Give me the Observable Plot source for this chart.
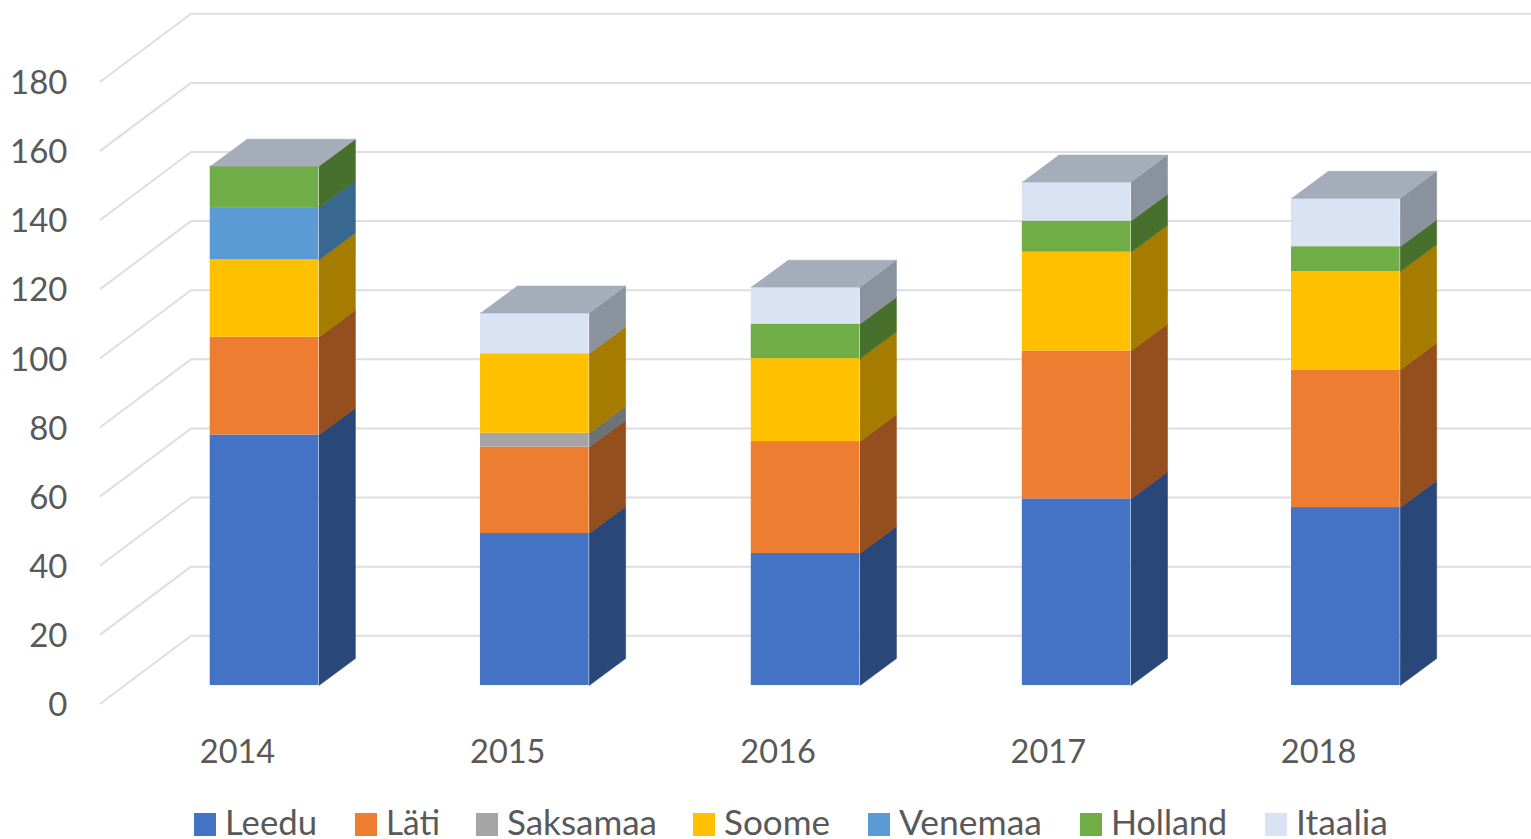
<!DOCTYPE html>
<html>
<head>
<meta charset="utf-8">
<script src="https://cdn.jsdelivr.net/npm/d3@7"></script>
<script src="https://cdn.jsdelivr.net/npm/@observablehq/plot@0.6"></script>
<style>
html,body{margin:0;padding:0;background:#fff;overflow:hidden}
#legend{position:relative;height:39px;font-family:Lato,sans-serif;font-size:34px;color:#595959}
.item{position:absolute;top:0;height:39px;white-space:nowrap}
.sw{position:absolute;top:13px;width:22px;height:23px}
.lb{position:absolute;top:5px;line-height:33px;transform-origin:0 50%}
</style>
</head>
<body>
<div id="chart"></div>
<div id="legend"></div>
<script>
const years = [2014, 2015, 2016, 2017, 2018];
const series = ["Leedu", "Läti", "Saksamaa", "Soome", "Venemaa", "Holland", "Itaalia"];
const Leedu    = [72.5, 44, 38.2, 54, 51.5];
const Lati     = [28.3, 25, 32.4, 42.8, 39.8];
const Saksamaa = [0, 4, 0, 0, 0];
const Soome    = [22.4, 23, 24, 28.6, 28.5];
const Venemaa  = [15.1, 0, 0, 0, 0];
const Holland  = [12, 0, 10, 9, 7.2];
const Itaalia  = [0, 11.8, 10.7, 11.3, 14];
const values = [Leedu, Lati, Saksamaa, Soome, Venemaa, Holland, Itaalia];
const frontColors = ["#4472c4", "#ed7d31", "#a5a5a5", "#ffc000", "#5b9bd5", "#70ad47", "#dae3f3"];
const sideColors  = ["#2a4779", "#954f1e", "#6c7377", "#a67c00", "#38678f", "#48702d", "#8a929e"];
const topColor = "#a4adb9";
const yTicks = d3.range(0, 181, 20);

// 3D geometry, in data units
const wallDx = 0.335, wallDy = 19.6;   // depth of the chart floor
const barDx = 0.135, barDy = 7.8;      // depth of a bar
const barShift = [0.1, 0.1, 0.102, 0.105, 0.101], barBase = 5.2;   // where a bar stands on the floor
const barWidth = 0.402;
const xMin = 2013.493, xMax = 2018.788;

const fronts = [], polys = [];
years.forEach((yr, i) => {
  const xl = yr + barShift[i] - barWidth / 2 , xr = xl + barWidth;
  let base = barBase;
  series.forEach((s, k) => {
    const v = values[k][i];
    if (!v) return;
    const top = base + v;
    fronts.push({x1: xl, x2: xr, y1: base, y2: top, fill: frontColors[k]});
    const id = `side-${yr}-${s}`;
    [[xr, base], [xr + barDx, base + barDy], [xr + barDx, top + barDy], [xr, top]]
      .forEach(([x, y]) => polys.push({id, x, y, fill: sideColors[k]}));
    base = top;
  });
  const id = `top-${yr}`;
  [[xl, base], [xr, base], [xr + barDx, base + barDy], [xl + barDx, base + barDy]]
    .forEach(([x, y]) => polys.push({id, x, y, fill: topColor}));
});

const wall = [];
yTicks.forEach(t => {
  wall.push({id: t, x: xMin, y: t});
  wall.push({id: t, x: xMin + wallDx, y: t + wallDy});
  wall.push({id: t, x: xMax, y: t + wallDy});
});

const fontFamily = "Lato, sans-serif";
const plot = Plot.plot({
  width: 1531,
  height: 800,
  marginLeft: 100,
  marginRight: 0,
  marginTop: 81,
  marginBottom: 97,
  style: {background: "#fff", fontFamily},
  x: {type: "linear", domain: [xMin, xMax], nice: false},
  y: {type: "linear", domain: [0, 180], nice: false},
  marks: [
    Plot.line(wall, {x: "x", y: "y", z: "id", stroke: "#dedede", strokeWidth: 2}),
    Plot.rect(fronts, {x1: "x1", x2: "x2", y1: "y1", y2: "y2", fill: "fill", inset: 0}),
    Plot.line(polys, {x: "x", y: "y", z: "id", fill: "fill", stroke: "fill", strokeWidth: 0.6}),
    Plot.axisY({ticks: yTicks, tickSize: 0, tickPadding: 33, dy: 2, fontSize: 33, color: "#595959", label: null, tickFormat: "d"}),
    Plot.axisX({ticks: years, tickSize: 0, tickPadding: 36, fontSize: 32.5, color: "#595959", label: null, tickFormat: "d"})
  ]
});
document.getElementById("chart").appendChild(plot);
plot.style.display = "block";

// legend
const swatchX = [194, 355, 476, 693, 868, 1080, 1265];
const labelW = [92, 54, 150, 106, 143, 116, 92];
const legend = d3.select("#legend");
series.forEach((s, k) => {
  const it = legend.append("div").attr("class", "item").style("left", swatchX[k] + "px");
  it.append("div").attr("class", "sw").style("background", frontColors[k]);
  const lb = it.append("div").attr("class", "lb").style("left", "31px").text(s);
  const w = lb.node().getBoundingClientRect().width;
  lb.style("transform", `scaleX(${labelW[k] / w})`);
});
</script>
</body>
</html>
